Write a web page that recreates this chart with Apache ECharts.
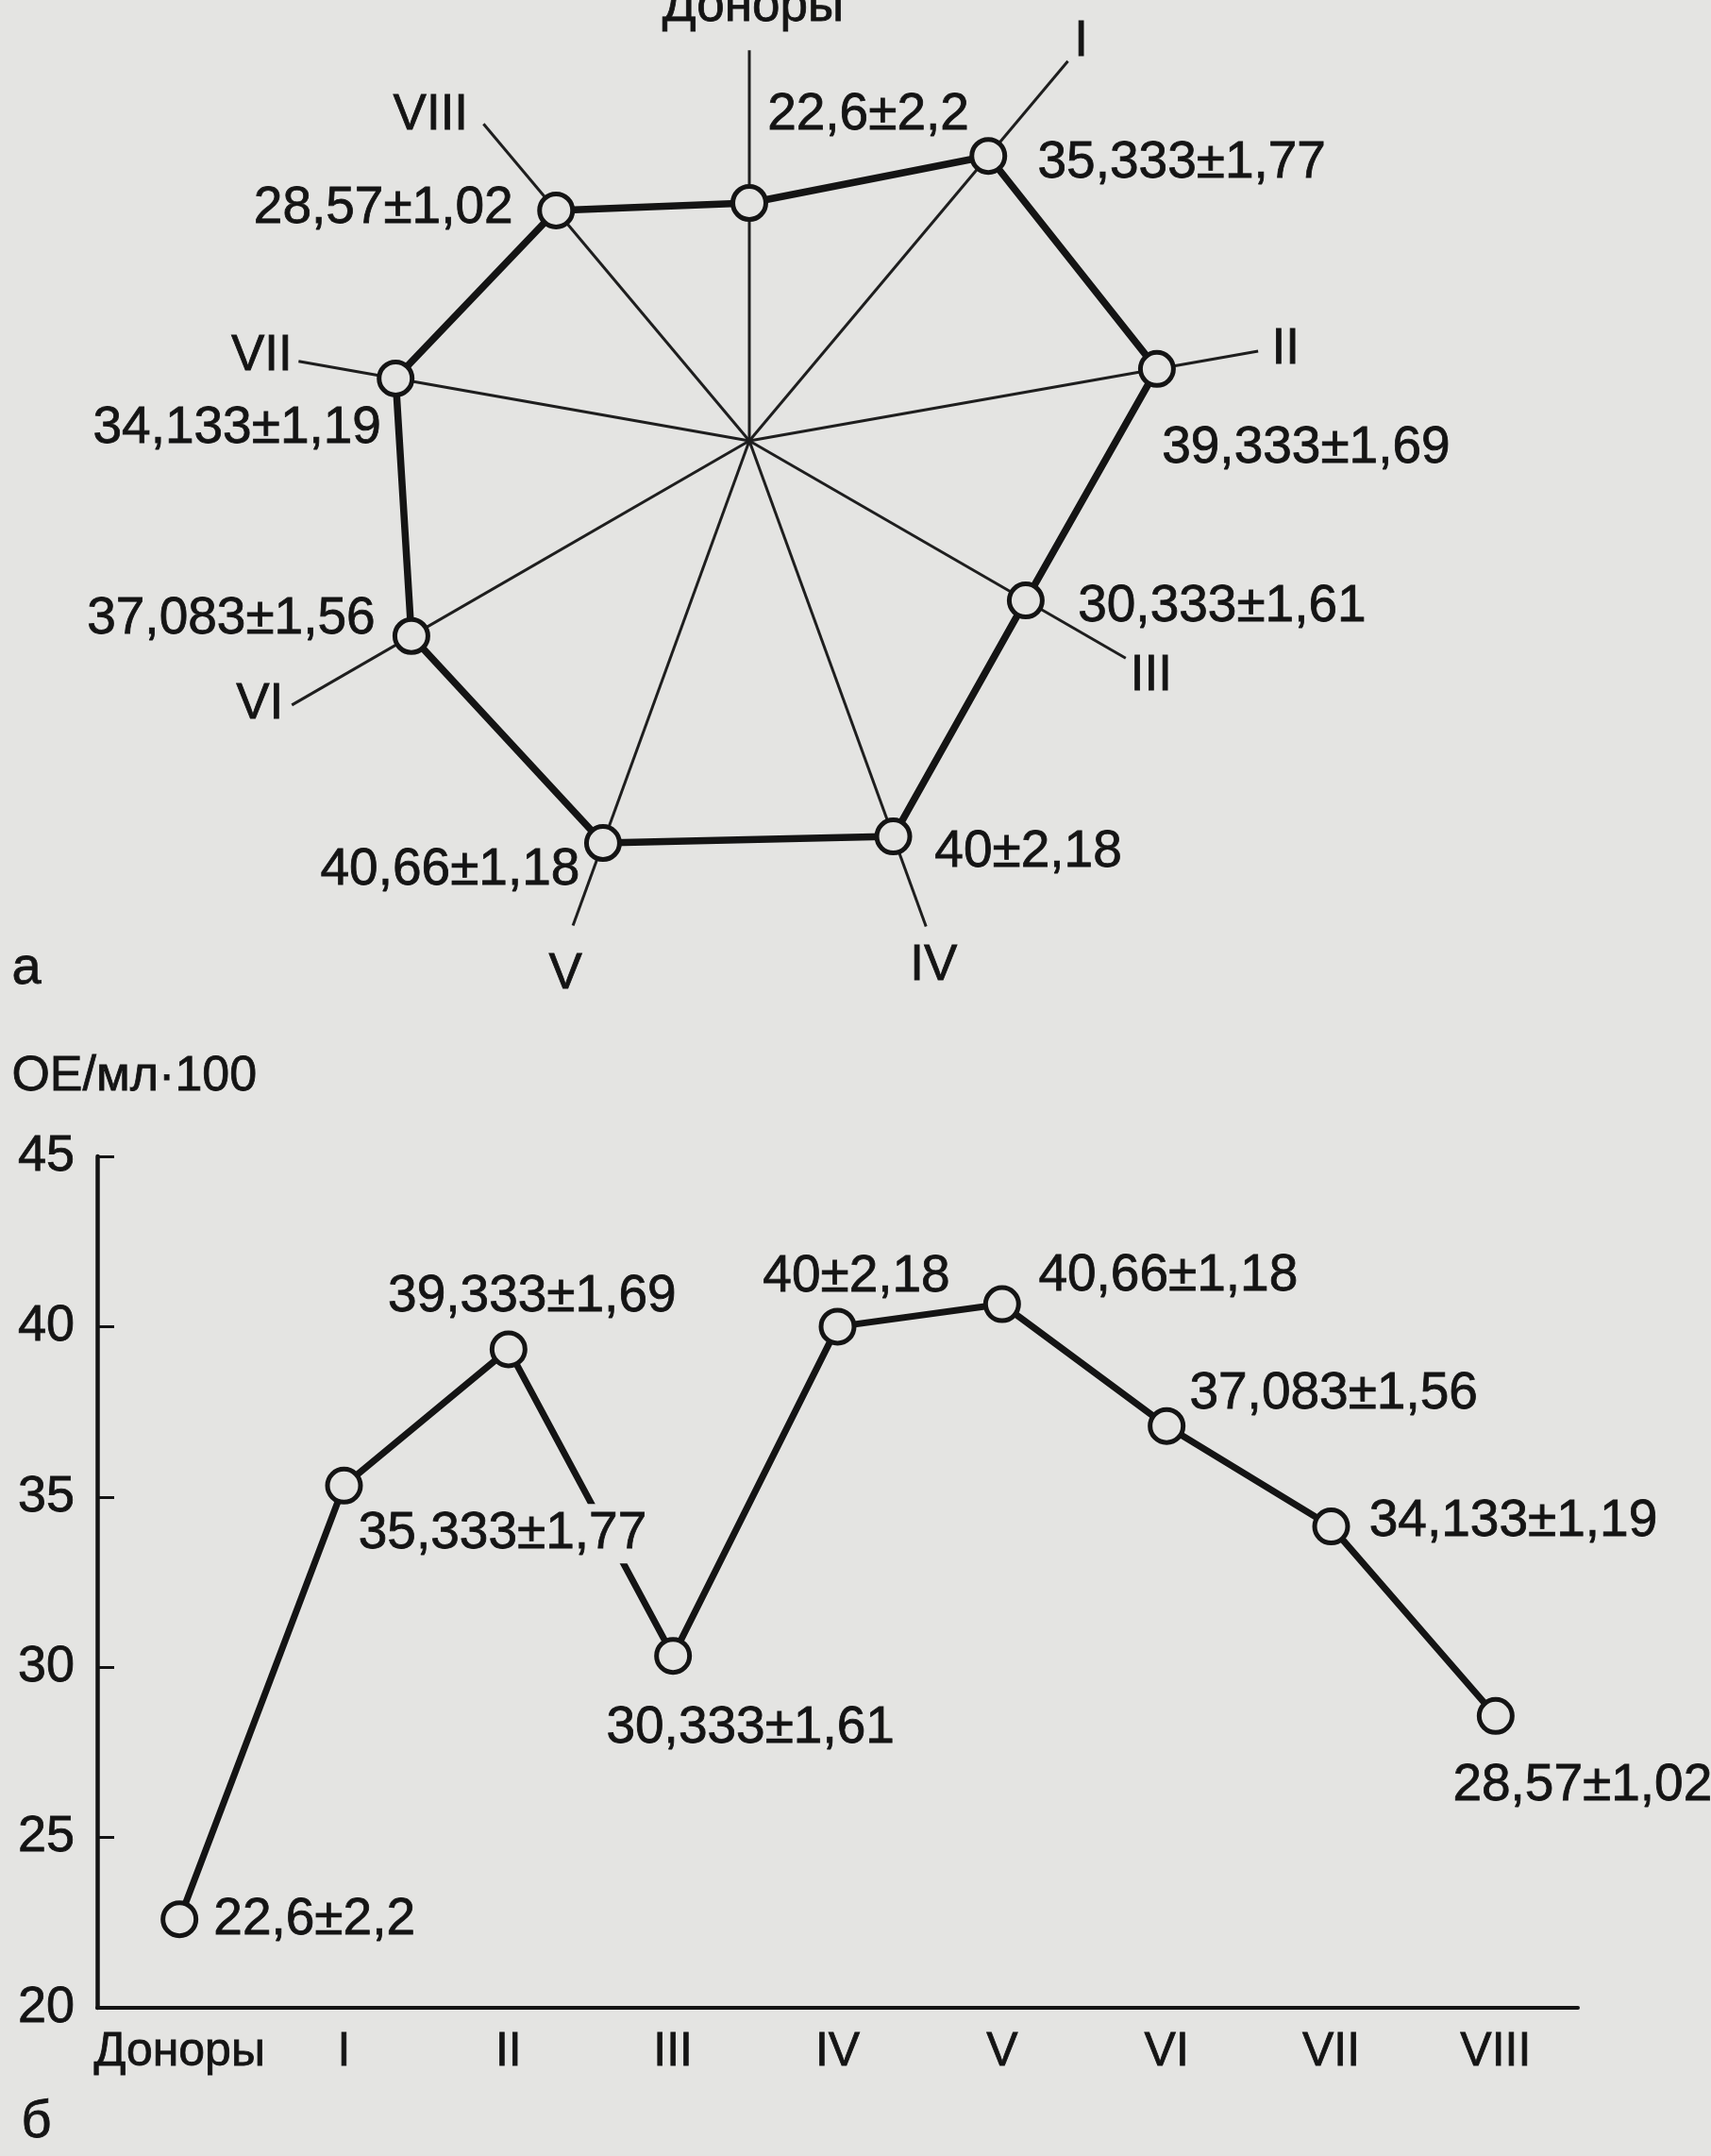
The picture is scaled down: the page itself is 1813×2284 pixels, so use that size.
<!DOCTYPE html>
<html>
<head>
<meta charset="utf-8">
<script src="https://cdn.jsdelivr.net/npm/echarts@6/dist/echarts.min.js"></script>
<style>
  html, body { margin: 0; padding: 0; background: #e4e4e2; }
  #chart { width: 1813px; height: 2284px; }
</style>
</head>
<body>
<div id="chart"></div>
<script>
// данные
var categories = ['Доноры', 'I', 'II', 'III', 'IV', 'V', 'VI', 'VII', 'VIII'];
var means = [22.6, 35.333, 39.333, 30.333, 40, 40.66, 37.083, 34.133, 28.57];
var errors = [2.2, 1.77, 1.69, 1.61, 2.18, 1.18, 1.56, 1.19, 1.02];
var yTicks = [20, 25, 30, 35, 40, 45];

// раскладка подписей (пиксели), длина лучей (в единицах шкалы)
var radarLabelOffset = [[126, -93], [205, 8], [158, 84], [208, 7], [143, 17], [-162, 29], [-191, -18], [-168, 53], [-183, -2]];
var lineLabelOffset = [[143, 1], [168, 51], [25, -56], [82, 77], [20, -53], [176, -30], [177, -34], [193, -5], [92, 74]];
var spokeLen = [37.1, 47.1, 49.1, 41.3, 49.1, 49.0, 50.2, 43.5, 39.3];
var spokeNameOffset = [[4, -46], [14, -20], [29, -2], [27, 19], [8, 42], [-8, 52], [-34, 0], [-39, -5], [-56, -9]];

var bg = '#e4e4e2';
var ink = '#141414';
var font = 'Liberation Sans, Arial, sans-serif';
var step = 360 / categories.length;

function fmt(i) {
    return String(means[i]).replace('.', ',') + '±' + String(errors[i]).replace('.', ',');
}

var myChart = echarts.init(document.getElementById('chart'));

// лучи лепестковой диаграммы
var spokes = categories.map(function (name, i) {
    return {
        type: 'line',
        coordinateSystem: 'polar',
        silent: true,
        z: 1,
        symbol: 'circle',
        symbolSize: 1,
        itemStyle: { color: 'rgba(0,0,0,0)' },
        lineStyle: { color: '#1e1e1e', width: 3 },
        data: [
            [0, i * step],
            {
                value: [spokeLen[i], i * step],
                label: {
                    show: true,
                    position: 'inside',
                    offset: spokeNameOffset[i],
                    formatter: name,
                    color: ink,
                    fontFamily: font,
                    fontSize: 53,
                    textBorderColor: ink,
                    textBorderWidth: 0.8
                }
            }
        ]
    };
});

// многоугольник
var radarData = categories.map(function (name, i) {
    return {
        value: [means[i], i * step],
        label: { show: true, position: 'inside', offset: radarLabelOffset[i], formatter: fmt(i) }
    };
});
radarData.push({ value: [means[0], 360], symbol: 'none', label: { show: false } });

var lineData = means.map(function (v, i) {
    var lab = { show: true, position: 'inside', offset: lineLabelOffset[i], formatter: fmt(i) };
    if (i === 1) {
        lab.backgroundColor = bg;
        lab.padding = [4, 10];
    }
    return { value: v, label: lab };
});

var valueLabel = { color: ink, fontFamily: font, fontSize: 55, textBorderColor: ink, textBorderWidth: 0.8 };
var axisText = { color: ink, fontFamily: font, fontSize: 53, textBorderColor: ink, textBorderWidth: 0.8 };

myChart.setOption({
    backgroundColor: bg,
    animation: false,
    polar: {
        center: [794, 467],
        radius: 55 * 11.15
    },
    angleAxis: {
        type: 'value',
        min: 0,
        max: 360,
        startAngle: 90,
        clockwise: true,
        show: false
    },
    radiusAxis: {
        type: 'value',
        min: 0,
        max: 55,
        show: false
    },
    grid: {
        left: 103,
        right: 141,
        top: 1225,
        bottom: 157
    },
    xAxis: {
        type: 'category',
        data: categories,
        boundaryGap: true,
        axisLine: { lineStyle: { color: ink, width: 4 } },
        axisTick: { inside: true, interval: 0, length: 15, lineStyle: { color: ink, width: 3 } },
        axisLabel: Object.assign({ interval: 0, margin: 22 }, axisText, { fontSize: 50 }),
        splitLine: { show: false }
    },
    yAxis: {
        type: 'value',
        min: yTicks[0],
        max: yTicks[yTicks.length - 1],
        interval: yTicks[1] - yTicks[0],
        axisLine: { show: true, lineStyle: { color: ink, width: 4.5 } },
        axisTick: { show: true, inside: true, length: 18, lineStyle: { color: ink, width: 3 } },
        axisLabel: Object.assign({ margin: 24 }, axisText, { fontSize: 54 }),
        splitLine: { show: false }
    },
    graphic: [
        { type: 'text', left: 12, top: 1114, style: { text: 'ОЕ/мл·100', fill: ink, font: '52px ' + font, stroke: ink, lineWidth: 0.8 } },
        { type: 'text', left: 12, top: 998, style: { text: 'а', fill: ink, font: '56px ' + font, stroke: ink, lineWidth: 0.8 } },
        { type: 'text', left: 22, top: 2220, style: { text: 'б', fill: ink, font: '56px ' + font, stroke: ink, lineWidth: 0.8 } }
    ],
    series: spokes.concat([
        {
            type: 'line',
            coordinateSystem: 'polar',
            z: 3,
            symbol: 'circle',
            symbolSize: 35,
            itemStyle: { color: bg, borderColor: ink, borderWidth: 5 },
            lineStyle: { color: ink, width: 7.5 },
            label: valueLabel,
            data: radarData
        },
        {
            type: 'line',
            xAxisIndex: 0,
            yAxisIndex: 0,
            z: 3,
            symbol: 'circle',
            symbolSize: 35,
            itemStyle: { color: bg, borderColor: ink, borderWidth: 5 },
            lineStyle: { color: ink, width: 7 },
            label: valueLabel,
            data: lineData
        }
    ])
});

window.onresize = function () {
    myChart.resize();
};
</script>
</body>
</html>
